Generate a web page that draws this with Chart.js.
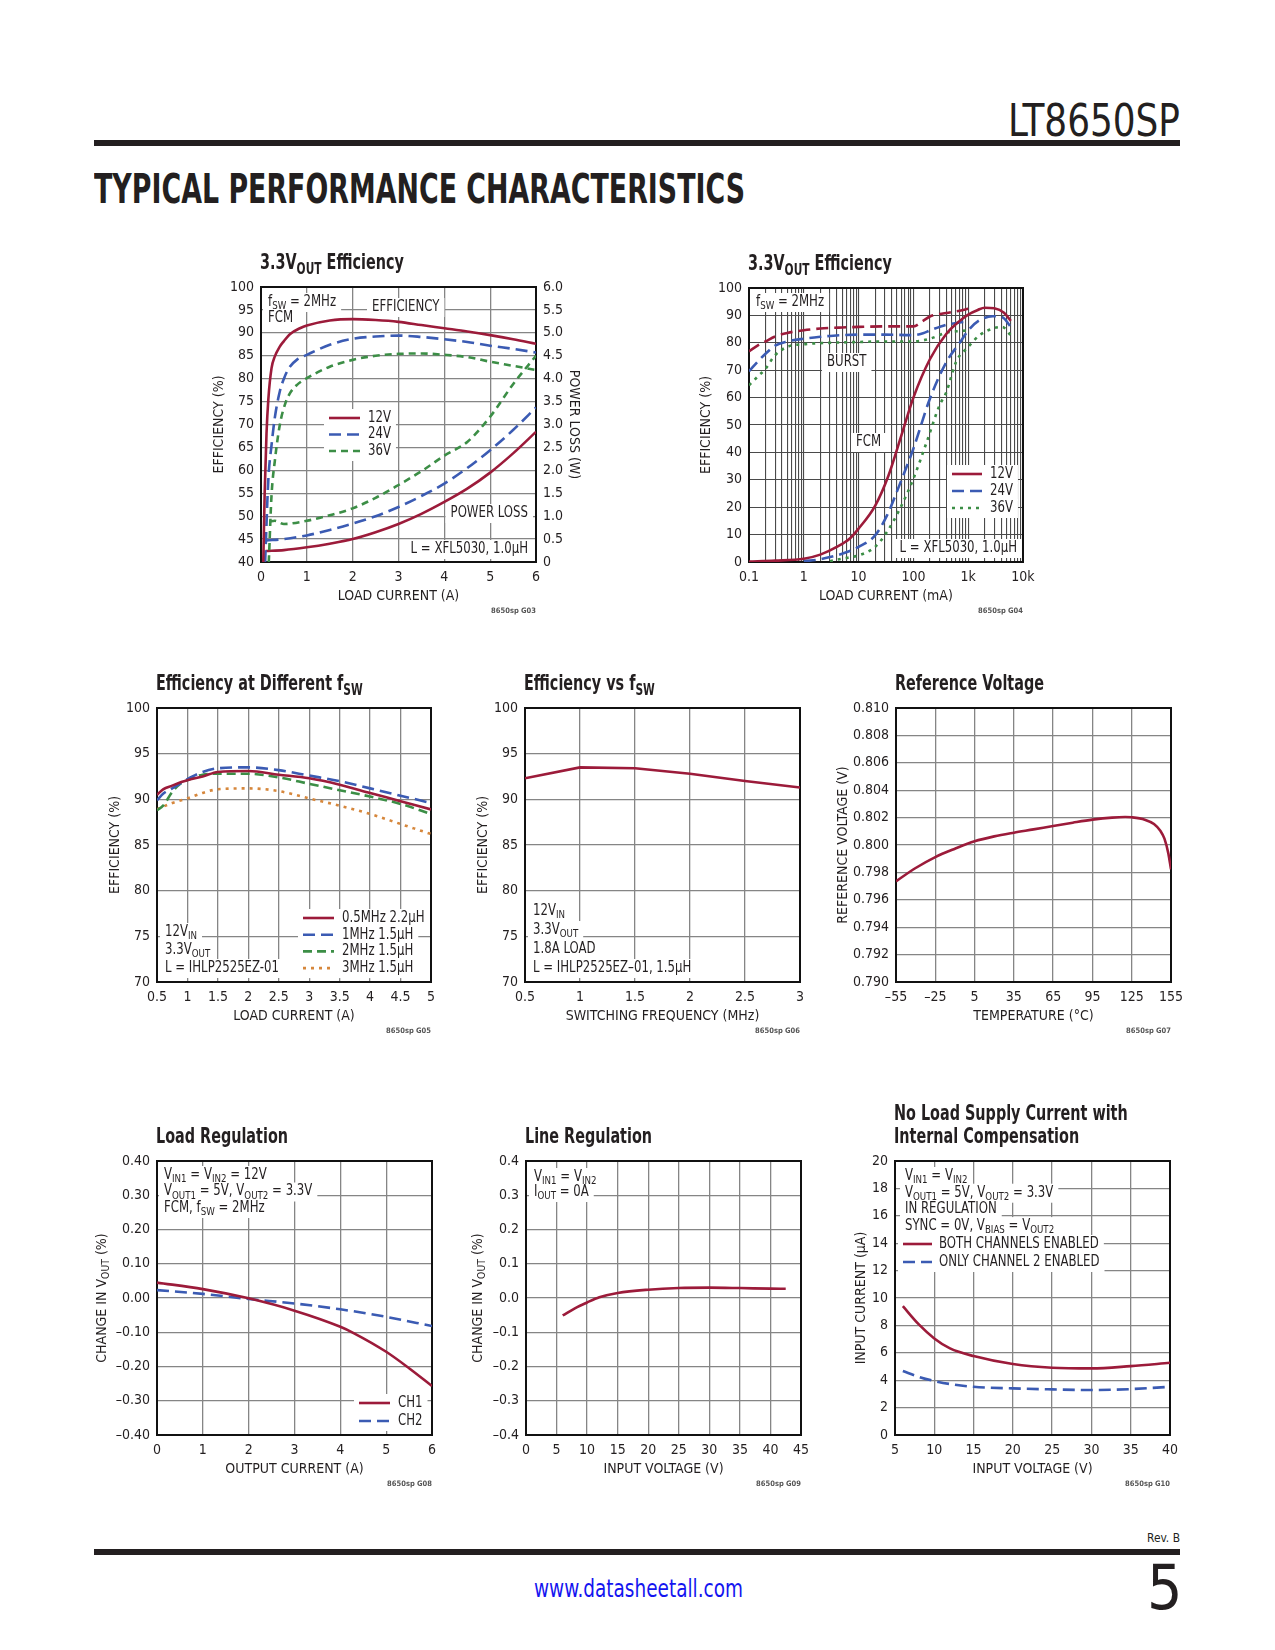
<!DOCTYPE html>
<html><head><meta charset="utf-8">
<script src="https://cdn.jsdelivr.net/npm/chart.js@4.4.1/dist/chart.umd.min.js"></script>
<style>
html,body{margin:0;padding:0;background:#fff;}
body{width:1275px;height:1650px;position:relative;overflow:hidden;}
.t{position:absolute;white-space:nowrap;line-height:1;color:#231f20;font-family:'Liberation Sans Narrow','Arial Narrow','DejaVu Sans Condensed',sans-serif;}
.bar{position:absolute;left:94px;width:1086px;height:6px;background:#231f20;}
canvas{position:absolute;}
</style></head><body>
<div class="t" id="part" style="left:1008px;top:99px;font-size:44px;">LT8650SP</div>
<div class="bar" style="top:140px"></div>
<div class="t" id="sect" style="left:94px;top:169px;font-family:'DejaVu Sans',sans-serif;font-weight:bold;font-size:40px;">TYPICAL PERFORMANCE CHARACTERISTICS</div>
<div class="t" id="rev" style="left:1147px;top:1531px;font-size:13px">Rev. B</div>
<div class="bar" style="top:1549px"></div>
<div class="t" id="url" style="left:534px;top:1577px;font-size:24px;color:#1414f0">www.datasheetall.com</div>
<div class="t" id="pg" style="left:1147px;top:1557px;font-size:62px;">5</div>
<script>
// ---------------- DATA ----------------
// G03: 3.3VOUT efficiency / power loss vs load current (A)
const g03Eff12X = [0.05,0.08,0.12,0.16,0.23,0.3,0.41,0.5,0.63,0.85,1,1.5,2,2.5,3,3.5,4,4.5,5,5.5,6];
const g03Eff12Y = [40,55,68,75.5,82.3,84.8,87,88.2,89.7,91,91.6,92.7,93.0,92.8,92.4,91.7,91.0,90.3,89.5,88.6,87.6];
const g03Eff24X = [0.09,0.16,0.23,0.3,0.41,0.52,0.63,0.78,1,1.5,2,2.5,3,3.5,4,4.5,5,5.5,6];
const g03Eff24Y = [40,58,65.5,71.4,77.2,80.5,82.6,84.1,85.2,87.4,88.7,89.2,89.4,89.1,88.6,88.0,87.2,86.5,85.7];
const g03Eff36X = [0.17,0.23,0.3,0.41,0.52,0.63,0.78,1,1.5,2,2.5,3,3.5,4,4.5,5,5.5,6];
const g03Eff36Y = [40,54.6,61.9,69.9,74.3,76.8,78.6,80.1,82.6,84.1,85,85.4,85.5,85.2,84.7,83.7,82.8,81.9];
const g03Loss12X = [0.1,0.5,1,1.5,2,2.5,3,3.5,4,4.5,5,5.5,6];
const g03Loss12Y = [0.24,0.26,0.32,0.4,0.5,0.65,0.83,1.05,1.31,1.6,1.95,2.37,2.84];
const g03Loss24X = [0.12,0.5,1,1.5,2,2.5,3,3.5,4,4.5,5,5.5,6];
const g03Loss24Y = [0.47,0.5,0.58,0.7,0.84,1.0,1.2,1.44,1.71,2.05,2.44,2.88,3.37];
const g03Loss36X = [0.18,0.3,0.5,1,1.5,2,2.5,3,3.5,4,4.5,5,5.5,6];
const g03Loss36Y = [0.88,0.9,0.83,0.9,1.02,1.17,1.4,1.68,1.98,2.32,2.62,3.17,3.88,4.5];
const g03XTicks = [0,1,2,3,4,5,6];
const g03XLabels = ['0','1','2','3','4','5','6'];
const g03YTicks = [40,45,50,55,60,65,70,75,80,85,90,95,100];
const g03YLabels = ['40','45','50','55','60','65','70','75','80','85','90','95','100'];
const g03Y1Ticks = [0,0.5,1,1.5,2,2.5,3,3.5,4,4.5,5,5.5,6];
const g03Y1Labels = ['0','0.5','1.0','1.5','2.0','2.5','3.0','3.5','4.0','4.5','5.0','5.5','6.0'];

// G04: efficiency vs load current (mA), log axis
const g04Burst12X = [0.1,0.15,0.2,0.3,0.5,1,2,5,10,30,100,150,200,400,700,1000];
const g04Burst12Y = [76.9,79.2,80.5,82.3,83.6,84.6,85.2,85.6,85.8,86,86,88,89.6,90.9,91.7,92.4];
const g04Fcm12X = [0.1,0.3,1,2,4,7,10,20,35,60,100,200,400,700,1000,1500,2000,3000,4500,6000];
const g04Fcm12Y = [0.2,0.5,1.2,2.7,5.5,8.7,12.2,20.5,31.5,46,60,74,83.3,88,90.3,92,92.8,92.6,91,88];
const g04Burst24X = [0.1,0.15,0.2,0.3,0.5,1,2,3,10,30,100,150,200,400,700,1000];
const g04Burst24Y = [69.6,73.5,76,79,80.5,81.5,82.2,82.5,83,83,82.8,83.5,84.5,86.6,87.4,87.8];
const g04Fcm24X = [1,2,3,5,10,20,33,57,100,200,400,700,1000,1600,2800,4200,6000];
const g04Fcm24Y = [0.3,1,1.8,3,5.5,9.7,17,28.6,41.4,59.6,73,80,84.5,88.2,89.7,89.3,85.8];
const g04Burst36X = [0.1,0.15,0.2,0.3,0.5,1,3,10,30,100,200,400,700,1000];
const g04Burst36Y = [64.5,68,70.5,75.5,78.5,79.5,80,80.3,80.5,80.5,81.5,83.7,84.3,84.5];
const g04Fcm36X = [3,5,10,20,33,57,100,175,300,400,600,1000,1600,2800,4200,6000];
const g04Fcm36Y = [0.3,1.2,2.4,5.5,11,19.5,30.4,43.8,57.2,62,73,78.5,82.7,85.2,85.8,82.7];
const g04XTicks = [0.1,0.2,0.3,0.4,0.5,0.6,0.7,0.8,0.9,1,2,3,4,5,6,7,8,9,10,20,30,40,50,60,70,80,90,100,200,300,400,500,600,700,800,900,1000,2000,3000,4000,5000,6000,7000,8000,9000,10000];
const g04XLabels = ['0.1','','','','','','','','','1','','','','','','','','','10','','','','','','','','','100','','','','','','','','','1k','','','','','','','','','10k'];
const g04YTicks = [0,10,20,30,40,50,60,70,80,90,100];
const g04YLabels = ['0','10','20','30','40','50','60','70','80','90','100'];

// G05: efficiency at different fSW vs load current (A)
const g05Load = [0.5,0.6,0.75,0.9,1,1.25,1.5,2,2.5,3,3.5,4,4.5,5];
const g05Eff05MHz = [90.5,91.1,91.5,91.9,92.1,92.5,93.0,93.1,92.7,92.3,91.6,90.7,89.8,88.9];
const g05Eff1MHz = [89.9,90.6,91.2,91.8,92.2,93.0,93.4,93.5,93.2,92.6,92.0,91.2,90.4,89.6];
const g05Eff2MHz = [88.8,89.3,90.8,91.8,92.1,92.7,92.8,92.8,92.4,91.7,91.0,90.3,89.5,88.4];
const g05Eff3MHz = [88.9,89.2,89.6,89.9,90.1,90.7,91.1,91.2,90.9,90.1,89.3,88.4,87.3,86.2];
const g05XTicks = [0.5,1,1.5,2,2.5,3,3.5,4,4.5,5];
const g05XLabels = ['0.5','1','1.5','2','2.5','3','3.5','4','4.5','5'];
const effYTicks = [70,75,80,85,90,95,100];
const effYLabels = ['70','75','80','85','90','95','100'];

// G06: efficiency vs switching frequency (MHz)
const g06Freq = [0.5,1,1.5,2,2.5,3];
const g06Eff = [92.3,93.5,93.4,92.8,92.0,91.3];
const g06XTicks = [0.5,1,1.5,2,2.5,3];
const g06XLabels = ['0.5','1','1.5','2','2.5','3'];

// G07: reference voltage vs temperature
const g07Temp = [-55,-40,-25,-10,5,20,35,50,65,80,95,110,120,125,135,142,147,150,153,155];
const g07Vref = [0.79735,0.79832,0.79912,0.79973,0.80027,0.80063,0.8009,0.80114,0.80139,0.80163,0.80185,0.802,0.80204,0.80202,0.80185,0.80153,0.80102,0.80046,0.79937,0.79822];
const g07XTicks = [-55,-25,5,35,65,95,125,155];
const g07XLabels = ['–55','–25','5','35','65','95','125','155'];
const g07YTicks = [0.790,0.792,0.794,0.796,0.798,0.800,0.802,0.804,0.806,0.808,0.810];
const g07YLabels = ['0.790','0.792','0.794','0.796','0.798','0.800','0.802','0.804','0.806','0.808','0.810'];

// G08: load regulation
const g08Iout = [0,1,2,3,4,4.3,5,5.5,6];
const g08Ch1 = [0.045,0.026,-0.001,-0.037,-0.084,-0.103,-0.157,-0.205,-0.257];
const g08Iout2 = [0,1,2,3,4,5,6];
const g08Ch2 = [0.023,0.012,-0.003,-0.016,-0.033,-0.055,-0.082];
const g08XTicks = [0,1,2,3,4,5,6];
const g08XLabels = ['0','1','2','3','4','5','6'];
const g08YTicks = [-0.4,-0.3,-0.2,-0.1,0,0.1,0.2,0.3,0.4];
const g08YLabels = ['–0.40','–0.30','–0.20','–0.10','0.00','0.10','0.20','0.30','0.40'];

// G09: line regulation
const g09Vin = [6,8,10,12,15,20,25,30,35,40,42.5];
const g09Change = [-0.051,-0.030,-0.013,0.002,0.0146,0.0243,0.0292,0.0302,0.029,0.0273,0.027];
const g09XTicks = [0,5,10,15,20,25,30,35,40,45];
const g09XLabels = ['0','5','10','15','20','25','30','35','40','45'];
const g09YLabels = ['–0.4','–0.3','–0.2','–0.1','0.0','0.1','0.2','0.3','0.4'];

// G10: no-load supply current
const g10Vin = [6,8,10,12,15,20,25,30,35,40];
const g10Both = [9.4,8.09,7.05,6.32,5.76,5.18,4.91,4.86,5.03,5.27];
const g10Ch2 = [4.67,4.25,3.94,3.72,3.52,3.40,3.33,3.28,3.35,3.52];
const g10XTicks = [5,10,15,20,25,30,35,40];
const g10XLabels = ['5','10','15','20','25','30','35','40'];
const g10YTicks = [0,2,4,6,8,10,12,14,16,18,20];
const g10YLabels = ['0','2','4','6','8','10','12','14','16','18','20'];

// ---------------- STYLE ----------------
const FONT = "'Liberation Sans Narrow','Arial Narrow','DejaVu Sans Condensed',sans-serif";
const INK = '#231f20', GRID = '#858585';
const RED = '#9c1b3a', BLUE = '#3b5bb3', GREEN = '#3c8e46', ORANGE = '#d6873c';
const SOLID = [], DASH = [12,6], SDASH = [7,5], DOT = [3,5];
const NOTE_SIZE = 15, NOTE_SX = 0.87, TITLE_SIZE = 20.5, TITLE_SX = 0.78, TICK_SIZE = 14;
Chart.defaults.font.family = FONT;
Chart.defaults.color = INK;
const ML = 90, MT = 70, MB = 60, MRPAD = 30;

function segs(s){
  const out=[]; const re=/_\{([^}]*)\}/g; let last=0,m;
  while((m=re.exec(s))){ if(m.index>last) out.push({t:s.slice(last,m.index),sub:false}); out.push({t:m[1],sub:true}); last=re.lastIndex; }
  if(last<s.length) out.push({t:s.slice(last),sub:false});
  return out;
}
function setF(ctx,size,weight){ ctx.font = (weight||'normal')+' '+size+'px '+FONT; }
function richW(ctx,s,size,weight,sx){ let w=0; for(const g of segs(s)){ setF(ctx,g.sub?size*0.74:size,weight); w+=ctx.measureText(g.t).width; } return w*(sx||1); }
function drawRich(ctx,s,x,y,size,o){
  o=o||{}; const weight=o.weight||'normal'; const sx=o.sx||1;
  const w=richW(ctx,s,size,weight,sx);
  let cx = o.align==='right'? x-w : (o.align==='center'? x-w/2 : x);
  ctx.save(); ctx.translate(cx,y); ctx.scale(sx,1);
  ctx.fillStyle=o.color||INK; ctx.textAlign='left'; ctx.textBaseline='middle';
  let px=0;
  for(const g of segs(s)){ const sz=g.sub?size*0.74:size; setF(ctx,sz,weight); ctx.fillText(g.t,px,(g.sub?size*0.3:0)); px+=ctx.measureText(g.t).width; }
  ctx.restore();
  return w;
}

function makeDeco(spec){
  return {
    id:'deco',
    beforeDatasetsDraw(chart){
      const ctx=chart.ctx, a=chart.chartArea; ctx.save();
      (spec.notes||[]).forEach(n=>{
        n.lines.forEach((ln,i)=>{
          const w=richW(ctx,ln,NOTE_SIZE,'normal',NOTE_SX); let x=a.left+n.dx; if(n.align==='right') x-=w;
          const y=a.top+n.dy+i*(n.lh||16);
          ctx.fillStyle='#fff'; ctx.fillRect(x-5,y-9,w+10,19);
        });
      });
      if(spec.legend){
        const L=spec.legend;
        L.items.forEach((it,i)=>{
          const w=richW(ctx,it.label,NOTE_SIZE,'normal',NOTE_SX); const y=a.top+L.dy+i*L.lh;
          ctx.fillStyle='#fff'; ctx.fillRect(a.left+L.dx-5,y-9,L.textDx-L.dx+w+10,19);
        });
      }
      ctx.strokeStyle='#111'; ctx.lineWidth=2;
      ctx.strokeRect(a.left,a.top,a.right-a.left,a.bottom-a.top);
      ctx.restore();
    },
    afterDatasetsDraw(chart){
      const ctx=chart.ctx, a=chart.chartArea; ctx.save();
      (spec.notes||[]).forEach(n=>{
        n.lines.forEach((ln,i)=>{ drawRich(ctx,ln,a.left+n.dx,a.top+n.dy+i*(n.lh||16),NOTE_SIZE,{align:n.align,sx:NOTE_SX}); });
      });
      if(spec.legend){
        const L=spec.legend;
        L.items.forEach((it,i)=>{
          const y=a.top+L.dy+i*L.lh;
          ctx.strokeStyle=it.color; ctx.lineWidth=2.6; ctx.setLineDash(it.dash); ctx.lineCap='butt';
          ctx.beginPath(); ctx.moveTo(a.left+L.dx,y); ctx.lineTo(a.left+L.dx+L.len,y); ctx.stroke();
          ctx.setLineDash([]);
          drawRich(ctx,it.label,a.left+L.textDx,y,NOTE_SIZE,{sx:NOTE_SX});
        });
      }
      spec.title.forEach((t,i)=>{ drawRich(ctx,t,a.left-1,a.top-23-(spec.title.length-1-i)*23,TITLE_SIZE,{weight:'bold',sx:TITLE_SX}); });
      drawRich(ctx,spec.xTitle,(a.left+a.right)/2,a.bottom+34,14,{align:'center'});
      ctx.save(); ctx.translate(a.left+spec.yDx,(a.top+a.bottom)/2); ctx.rotate(-Math.PI/2);
      drawRich(ctx,spec.yTitle,0,0,14,{align:'center'}); ctx.restore();
      if(spec.y1Title){
        ctx.save(); ctx.translate(a.right+spec.y1Dx,(a.top+a.bottom)/2); ctx.rotate(Math.PI/2);
        drawRich(ctx,spec.y1Title,0,0,14,{align:'center'}); ctx.restore();
      }
      drawRich(ctx,spec.code,a.right,a.bottom+49,7.5,{align:'right',weight:'bold',color:'#555'});
      ctx.restore();
    }
  };
}

function axis(type,min,max,vals,labels,fitFn,extra){
  return Object.assign({
    type:type, min:min, max:max,
    afterBuildTicks:s=>{ s.ticks = vals.map(v=>({value:v})); },
    afterFit:fitFn,
    ticks:{autoSkip:false,maxRotation:0,minRotation:0,padding:7,font:{size:TICK_SIZE},color:INK,callback:(v,i)=>labels[i]},
    grid:{color:GRID,lineWidth:1.3,drawTicks:false},
    border:{display:false}
  }, extra||{});
}
function ds(xs,ys,color,dash,extra){
  return Object.assign({data:xs.map((x,i)=>({x:x,y:ys[i]})),borderColor:color,borderDash:dash,borderWidth:2.6,pointRadius:0,fill:false,cubicInterpolationMode:'monotone',borderCapStyle:'butt'}, extra||{});
}

function makeChart(rect,spec,datasets,scales){
  const MRaxis = spec.y1Title ? 50 : 0;
  const W = ML+rect.w+MRaxis+MRPAD, H = MT+rect.h+MB;
  const cv=document.createElement('canvas');
  cv.width=W; cv.height=H;
  cv.style.left=(rect.l-ML)+'px'; cv.style.top=(rect.t-MT)+'px';
  cv.style.width=W+'px'; cv.style.height=H+'px';
  document.body.appendChild(cv);
  new Chart(cv,{
    type:'line',
    data:{datasets:datasets},
    options:{responsive:false,animation:false,devicePixelRatio:1,
      layout:{padding:{left:0,top:MT,right:MRPAD,bottom:0}},
      scales:scales,
      plugins:{legend:{display:false},tooltip:{enabled:false}}},
    plugins:[makeDeco(spec)]
  });
}
const fitX = s=>{ s.height=MB; };
const fitY = s=>{ s.width=ML; };
const fitY1 = s=>{ s.width=50; };

// ---------- G03 ----------
makeChart({l:261,t:287,w:275,h:275},{
  title:['3.3V_{OUT} Efficiency'], xTitle:'LOAD CURRENT (A)', yTitle:'EFFICIENCY (%)', yDx:-42,
  y1Title:'POWER LOSS (W)', y1Dx:38, code:'8650sp G03',
  notes:[{dx:7,dy:15,lh:16,lines:['f_{SW} = 2MHz','FCM']},{dx:111,dy:20,lines:['EFFICIENCY']},
         {dx:267,dy:226,align:'right',lines:['POWER LOSS']},{dx:267,dy:262,align:'right',lines:['L = XFL5030, 1.0µH']}],
  legend:{dx:68,len:31,textDx:107,dy:131,lh:16.5,items:[{label:'12V',color:RED,dash:SOLID},{label:'24V',color:BLUE,dash:DASH},{label:'36V',color:GREEN,dash:SDASH}]}
},[
  ds(g03Eff12X,g03Eff12Y,RED,SOLID,{yAxisID:'y'}),
  ds(g03Eff24X,g03Eff24Y,BLUE,DASH,{yAxisID:'y'}),
  ds(g03Eff36X,g03Eff36Y,GREEN,SDASH,{yAxisID:'y'}),
  ds(g03Loss12X,g03Loss12Y,RED,SOLID,{yAxisID:'y1'}),
  ds(g03Loss24X,g03Loss24Y,BLUE,DASH,{yAxisID:'y1'}),
  ds(g03Loss36X,g03Loss36Y,GREEN,SDASH,{yAxisID:'y1'})
],{
  x:axis('linear',0,6,g03XTicks,g03XLabels,fitX),
  y:axis('linear',40,100,g03YTicks,g03YLabels,fitY,{position:'left'}),
  y1:axis('linear',0,6,g03Y1Ticks,g03Y1Labels,fitY1,{position:'right',grid:{display:false,drawTicks:false}})
});

// ---------- G04 ----------
makeChart({l:749,t:288,w:274,h:274},{
  title:['3.3V_{OUT} Efficiency'], xTitle:'LOAD CURRENT (mA)', yTitle:'EFFICIENCY (%)', yDx:-43, code:'8650sp G04',
  notes:[{dx:7,dy:14,lines:['f_{SW} = 2MHz']},{dx:78,dy:74,lines:['BURST']},{dx:107,dy:154,lines:['FCM']},
         {dx:268,dy:260,align:'right',lines:['L = XFL5030, 1.0µH']}],
  legend:{dx:203,len:30,textDx:241,dy:186,lh:17,items:[{label:'12V',color:RED,dash:SOLID},{label:'24V',color:BLUE,dash:DASH},{label:'36V',color:GREEN,dash:DOT}]}
},[
  ds(g04Burst12X,g04Burst12Y,RED,DASH),
  ds(g04Fcm12X,g04Fcm12Y,RED,SOLID),
  ds(g04Burst24X,g04Burst24Y,BLUE,DASH),
  ds(g04Fcm24X,g04Fcm24Y,BLUE,DASH),
  ds(g04Burst36X,g04Burst36Y,GREEN,DOT),
  ds(g04Fcm36X,g04Fcm36Y,GREEN,DOT)
],{
  x:axis('logarithmic',0.1,10000,g04XTicks,g04XLabels,fitX,{grid:{color:'#4a4a4a',lineWidth:1.1,drawTicks:false}}),
  y:axis('linear',0,100,g04YTicks,g04YLabels,fitY,{grid:{color:'#4a4a4a',lineWidth:1.1,drawTicks:false}})
});

// ---------- G05 ----------
makeChart({l:157,t:708,w:274,h:274},{
  title:['Efficiency at Different f_{SW}'], xTitle:'LOAD CURRENT (A)', yTitle:'EFFICIENCY (%)', yDx:-42, code:'8650sp G05',
  notes:[{dx:8,dy:224,lh:18,lines:['12V_{IN}','3.3V_{OUT}','L = IHLP2525EZ-01']}],
  legend:{dx:146,len:31,textDx:185,dy:210,lh:16.7,items:[{label:'0.5MHz 2.2µH',color:RED,dash:SOLID},{label:'1MHz 1.5µH',color:BLUE,dash:DASH},{label:'2MHz 1.5µH',color:GREEN,dash:[9,5]},{label:'3MHz 1.5µH',color:ORANGE,dash:DOT}]}
},[
  ds(g05Load,g05Eff05MHz,RED,SOLID),
  ds(g05Load,g05Eff1MHz,BLUE,DASH),
  ds(g05Load,g05Eff2MHz,GREEN,[9,5]),
  ds(g05Load,g05Eff3MHz,ORANGE,DOT)
],{
  x:axis('linear',0.5,5,g05XTicks,g05XLabels,fitX),
  y:axis('linear',70,100,effYTicks,effYLabels,fitY)
});

// ---------- G06 ----------
makeChart({l:525,t:708,w:275,h:274},{
  title:['Efficiency vs f_{SW}'], xTitle:'SWITCHING FREQUENCY (MHz)', yTitle:'EFFICIENCY (%)', yDx:-42, code:'8650sp G06',
  notes:[{dx:8,dy:203,lh:19,lines:['12V_{IN}','3.3V_{OUT}','1.8A LOAD','L = IHLP2525EZ–01, 1.5µH']}]
},[
  ds(g06Freq,g06Eff,RED,SOLID,{cubicInterpolationMode:'default',tension:0})
],{
  x:axis('linear',0.5,3,g06XTicks,g06XLabels,fitX),
  y:axis('linear',70,100,effYTicks,effYLabels,fitY)
});

// ---------- G07 ----------
makeChart({l:896,t:708,w:275,h:274},{
  title:['Reference Voltage'], xTitle:'TEMPERATURE (°C)', yTitle:'REFERENCE VOLTAGE (V)', yDx:-53, code:'8650sp G07'
},[
  ds(g07Temp,g07Vref,RED,SOLID)
],{
  x:axis('linear',-55,155,g07XTicks,g07XLabels,fitX),
  y:axis('linear',0.790,0.810,g07YTicks,g07YLabels,fitY)
});

// ---------- G08 ----------
makeChart({l:157,t:1161,w:275,h:274},{
  title:['Load Regulation'], xTitle:'OUTPUT CURRENT (A)', yTitle:'CHANGE IN V_{OUT} (%)', yDx:-55, code:'8650sp G08',
  notes:[{dx:7,dy:14,lh:16.5,lines:['V_{IN1} = V_{IN2} = 12V','V_{OUT1} = 5V, V_{OUT2} = 3.3V','FCM, f_{SW} = 2MHz']}],
  legend:{dx:202,len:31,textDx:241,dy:242,lh:18,items:[{label:'CH1',color:RED,dash:SOLID},{label:'CH2',color:BLUE,dash:DASH}]}
},[
  ds(g08Iout,g08Ch1,RED,SOLID),
  ds(g08Iout2,g08Ch2,BLUE,DASH)
],{
  x:axis('linear',0,6,g08XTicks,g08XLabels,fitX),
  y:axis('linear',-0.4,0.4,g08YTicks,g08YLabels,fitY)
});

// ---------- G09 ----------
makeChart({l:526,t:1161,w:275,h:274},{
  title:['Line Regulation'], xTitle:'INPUT VOLTAGE (V)', yTitle:'CHANGE IN V_{OUT} (%)', yDx:-48, code:'8650sp G09',
  notes:[{dx:8,dy:16,lh:15,lines:['V_{IN1} = V_{IN2}','I_{OUT} = 0A']}]
},[
  ds(g09Vin,g09Change,RED,SOLID)
],{
  x:axis('linear',0,45,g09XTicks,g09XLabels,fitX),
  y:axis('linear',-0.4,0.4,g08YTicks,g09YLabels,fitY)
});

// ---------- G10 ----------
makeChart({l:895,t:1161,w:275,h:274},{
  title:['No Load Supply Current with','Internal Compensation'], xTitle:'INPUT VOLTAGE (V)', yTitle:'INPUT CURRENT (µA)', yDx:-34, code:'8650sp G10',
  notes:[{dx:10,dy:15,lh:16.7,lines:['V_{IN1} = V_{IN2}','V_{OUT1} = 5V, V_{OUT2} = 3.3V','IN REGULATION','SYNC = 0V, V_{BIAS} = V_{OUT2}']}],
  legend:{dx:8,len:29,textDx:44,dy:83,lh:18,items:[{label:'BOTH CHANNELS ENABLED',color:RED,dash:SOLID},{label:'ONLY CHANNEL 2 ENABLED',color:BLUE,dash:DASH}]}
},[
  ds(g10Vin,g10Both,RED,SOLID),
  ds(g10Vin,g10Ch2,BLUE,DASH)
],{
  x:axis('linear',5,40,g10XTicks,g10XLabels,fitX),
  y:axis('linear',0,20,g10YTicks,g10YLabels,fitY)
});

// ---------- page text fitting ----------
function fitText(id,x,w){
  const el=document.getElementById(id);
  const cw=el.getBoundingClientRect().width;
  el.style.transformOrigin='0 0';
  el.style.transform='scaleX('+(w/cw)+')';
  el.style.left=x+'px';
}
fitText('part',1008,172);
fitText('sect',94,651);
fitText('rev',1147,33);
fitText('url',534,209);
</script>
</body></html>
